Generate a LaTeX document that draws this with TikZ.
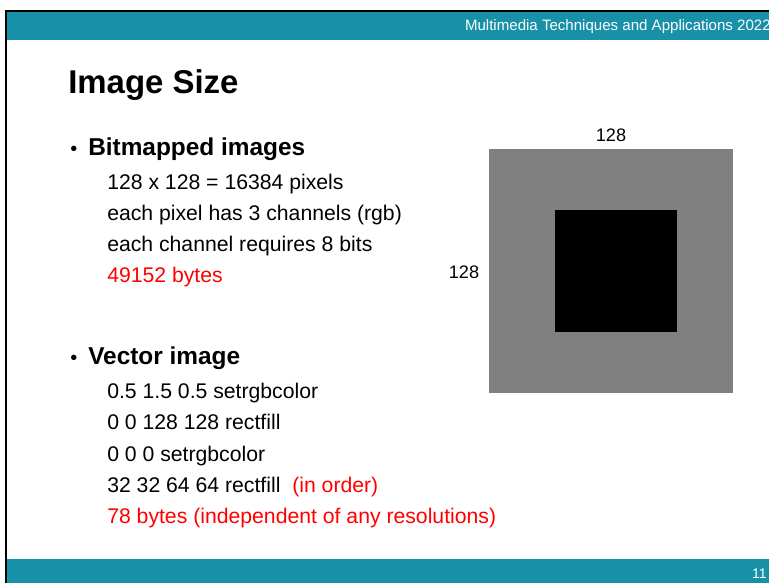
\documentclass[tikz,border=0pt]{standalone}
\usepackage{fontspec}
\setmainfont{Liberation Sans}
\usetikzlibrary{positioning}
\definecolor{slideTeal}{HTML}{1790A8}
\definecolor{hotRed}{HTML}{FF0000}
\definecolor{bitGray}{HTML}{808080}

\begin{document}
\begin{tikzpicture}[
    x=0.75pt, y=-0.75pt,
    txt/.style={anchor=base west, inner sep=0pt, font=\fontsize{15.9}{18}\selectfont},
    hot/.style={txt, text=hotRed},
    head/.style={anchor=base west, inner sep=0pt, font=\fontsize{18.3}{21}\selectfont\bfseries},
    dot/.style={anchor=base west, inner sep=0pt, font=\fontsize{15}{18}\selectfont},
    dim/.style={inner sep=0pt, font=\fontsize{13.6}{16}\selectfont},
  ]
  \useasboundingbox (0,0) rectangle (769,583);

  %% -- slide frame, header and footer --
  \fill[black] (5,10) rectangle (769,583);
  \fill[white] (7,12) rectangle (769,583);
  \fill[slideTeal] (7,12) rectangle (769,40);
  \fill[slideTeal] (7,559) rectangle (769,583);
  \node[anchor=base east, inner sep=0pt, text=white, font=\fontsize{11.3}{13}\selectfont]
    (course) at (771,30) {Multimedia Techniques and Applications 2022};
  \node[anchor=base east, inner sep=0pt, text=white, font=\fontsize{10.5}{12}\selectfont]
    (page) at (767,578) {11};

  %% -- title --
  \node[anchor=base west, inner sep=0pt, font=\fontsize{24.7}{28}\selectfont\bfseries]
    (title) at (68,93) {Image Size};

  %% -- bitmapped --
  \node[dot]  (b1) at (70,155) {\textbullet};
  \node[head] (bitmap) at (88,155) {Bitmapped images};
  \node[txt]  (bm1) at (107,189) {128 x 128 = 16384 pixels};
  \node[txt]  (bm2) at (107,220) {each pixel has 3 channels (rgb)};
  \node[txt]  (bm3) at (107,251) {each channel requires 8 bits};
  \node[hot]  (bm4) at (107,282) {49152 bytes};

  %% -- vector --
  \node[dot]  (b2) at (70,364) {\textbullet};
  \node[head] (vector) at (88,364) {Vector image};
  \node[txt]  (vc1) at (107,398) {0.5 1.5 0.5 setrgbcolor};
  \node[txt]  (vc2) at (107,429) {0 0 128 128 rectfill};
  \node[txt]  (vc3) at (107,461) {0 0 0 setrgbcolor};
  \node[txt]  (vc4) at (107,492) {32 32 64 64 rectfill\ \ \textcolor{hotRed}{(in order)}};
  \node[hot]  (vc5) at (107,523) {78 bytes (independent of any resolutions)};

  %% -- the picture itself --
  \fill[bitGray] (489,149) rectangle (733,393);
  \fill[black] (555,210) rectangle (677,332);
  \node[dim] (wide) at (611,135) {128};
  \node[dim] (high) at (464,272) {128};

\end{tikzpicture}
\end{document}
